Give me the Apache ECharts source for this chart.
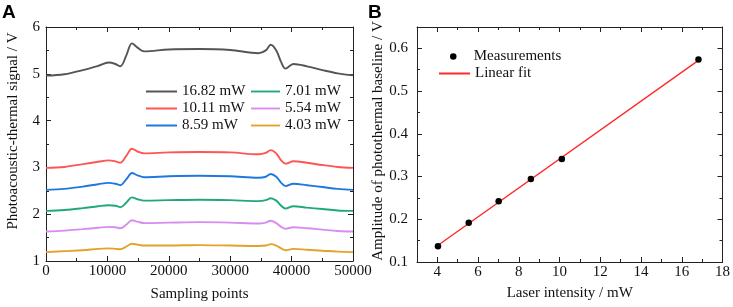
<!DOCTYPE html>
<html>
<head>
<meta charset="utf-8">
<script src="https://cdn.jsdelivr.net/npm/echarts@6/dist/echarts.min.js"></script>
<style>
html,body{margin:0;padding:0;background:#fff;}
#c{width:733px;height:307px;}
</style>
</head>
<body>
<div id="c"></div>
<script>
// ---------- Panel A data ----------
const samplePoints = [0, 3000, 6000, 8500, 10200, 11300, 12100, 13100, 14000, 14900, 16000, 20000, 25000, 30000, 34600, 35800, 36600, 37500, 38300, 39000, 40300, 42500, 45000, 47500, 50000];
const seriesNamesA = ['16.82 mW', '10.11 mW', '8.59 mW', '7.01 mW', '5.54 mW', '4.03 mW'];
const sig1682 = [4.96, 4.99, 5.08, 5.17, 5.24, 5.21, 5.16, 5.40, 5.65, 5.56, 5.48, 5.52, 5.53, 5.51, 5.44, 5.50, 5.62, 5.50, 5.25, 5.11, 5.21, 5.16, 5.08, 5.01, 4.97];
const sig1011 = [2.99, 3.01, 3.07, 3.12, 3.15, 3.13, 3.10, 3.25, 3.40, 3.34, 3.30, 3.32, 3.33, 3.32, 3.28, 3.31, 3.37, 3.30, 3.15, 3.08, 3.13, 3.10, 3.05, 3.01, 2.99];
const sig859  = [2.52, 2.54, 2.59, 2.64, 2.67, 2.65, 2.62, 2.75, 2.88, 2.83, 2.79, 2.81, 2.82, 2.81, 2.78, 2.80, 2.86, 2.80, 2.67, 2.60, 2.65, 2.62, 2.58, 2.54, 2.52];
const sig701  = [2.07, 2.09, 2.13, 2.17, 2.19, 2.18, 2.15, 2.25, 2.36, 2.32, 2.29, 2.30, 2.31, 2.30, 2.28, 2.30, 2.34, 2.29, 2.18, 2.12, 2.17, 2.14, 2.11, 2.08, 2.07];
const sig554  = [1.63, 1.65, 1.68, 1.71, 1.73, 1.72, 1.70, 1.78, 1.87, 1.84, 1.81, 1.82, 1.83, 1.82, 1.80, 1.82, 1.86, 1.81, 1.73, 1.69, 1.72, 1.70, 1.67, 1.64, 1.63];
const sig403  = [1.19, 1.21, 1.23, 1.26, 1.27, 1.26, 1.25, 1.31, 1.37, 1.35, 1.33, 1.33, 1.34, 1.33, 1.32, 1.33, 1.36, 1.33, 1.27, 1.23, 1.26, 1.24, 1.22, 1.20, 1.19];
const colorsA = ['#555555', '#ff5555', '#1f78e0', '#1fa978', '#d88cef', '#e3a22a'];
const ticksAX = [0, 10000, 20000, 30000, 40000, 50000];
const minorAX = [5000, 15000, 25000, 35000, 45000];
const ticksAY = [1, 2, 3, 4, 5, 6];
const minorAY = [1.5, 2.5, 3.5, 4.5, 5.5];

// ---------- Panel B data ----------
const laserIntensity = [4.03, 5.54, 7.01, 8.59, 10.11, 16.82];
const baselineAmp = [0.137, 0.192, 0.242, 0.294, 0.341, 0.574];
const fitX = [4.0, 16.82];
const fitY = [0.138, 0.572];
const ticksBX = [4, 6, 8, 10, 12, 14, 16, 18];
const minorBX = [5, 7, 9, 11, 13, 15, 17];
const ticksBY = [0.1, 0.2, 0.3, 0.4, 0.5, 0.6];
const minorBY = [0.15, 0.25, 0.35, 0.45, 0.55, 0.65];

const FONT = 'Liberation Serif';
const FS = 15;
const AX = '#222';
const LINE_ICON = 'path://M0,0 H31 V2 H0 Z';

function axes(dim, gridIndex, min, max, majors, minors, mainExtra) {
  const isX = dim === 'x';
  const pos = isX ? ['bottom', 'top'] : ['left', 'right'];
  const base = { type: 'value', gridIndex, min, max, splitLine: { show: false } };
  const out = [];
  out.push(Object.assign({}, base, {
    position: pos[0],
    axisLine: { show: true, onZero: false, lineStyle: { color: AX, width: 1 } },
    axisTick: { show: true, inside: true, length: 5, customValues: majors, lineStyle: { color: AX } },
    axisLabel: Object.assign({ show: true, customValues: majors, fontFamily: FONT, fontSize: FS, color: '#111', formatter: v => String(v) }, mainExtra.label || {}),
    nameLocation: 'middle', nameTextStyle: Object.assign({ fontFamily: FONT, fontSize: FS, color: '#111' }, mainExtra.nameStyle || {})
  }, mainExtra.axis || {}));
  out.push(Object.assign({}, base, {
    position: pos[0],
    axisLine: { show: false, onZero: false },
    axisTick: { show: true, inside: true, length: 3, customValues: minors, lineStyle: { color: AX } },
    axisLabel: { show: false }
  }));
  out.push(Object.assign({}, base, {
    position: pos[1],
    axisLine: { show: true, onZero: false, lineStyle: { color: AX, width: 1 } },
    axisTick: { show: true, inside: true, length: 5, customValues: majors, lineStyle: { color: AX } },
    axisLabel: { show: false }
  }));
  out.push(Object.assign({}, base, {
    position: pos[1],
    axisLine: { show: false, onZero: false },
    axisTick: { show: true, inside: true, length: 3, customValues: minors, lineStyle: { color: AX } },
    axisLabel: { show: false }
  }));
  return out;
}

const xAxes = [].concat(
  axes('x', 0, 0, 50000, ticksAX, minorAX, { label: { margin: 3 }, axis: { name: 'Sampling points', nameGap: 26 } }),
  axes('x', 1, 3, 18, ticksBX, minorBX, { label: { margin: 3 }, axis: { name: 'Laser intensity / mW', nameGap: 24 } })
);
const yAxes = [].concat(
  axes('y', 0, 1, 6, ticksAY, minorAY, { label: { margin: 6 }, axis: { name: 'Photoacoustic-thermal signal / V', nameGap: 25.5, nameRotate: 90 }, nameStyle: { padding: [0, 0, 0, 26] } }),
  axes('y', 1, 0.1, 0.65, ticksBY, minorBY, { label: { margin: 9 }, axis: { name: 'Amplitude of photothermal baseline / V', nameGap: 26.5, nameRotate: 90 }, nameStyle: { padding: [0, 0, 0, 7] } })
);

const sigs = [sig1682, sig1011, sig859, sig701, sig554, sig403];
const seriesA = sigs.map((ys, i) => ({
  name: seriesNamesA[i], type: 'line', xAxisIndex: 0, yAxisIndex: 0,
  data: samplePoints.map((x, j) => [x, ys[j]]),
  smooth: 0.35, symbol: 'none',
  lineStyle: { color: colorsA[i], width: 1.9 }, itemStyle: { color: colorsA[i] },
  z: 3
}));

const seriesB = [
  { name: 'Linear fit', type: 'line', xAxisIndex: 4, yAxisIndex: 4,
    data: fitX.map((x, j) => [x, fitY[j]]), symbol: 'none',
    lineStyle: { color: '#ff2a2a', width: 1.4 }, itemStyle: { color: '#ff2a2a' }, z: 3 },
  { name: 'Measurements', type: 'scatter', xAxisIndex: 4, yAxisIndex: 4,
    data: laserIntensity.map((x, j) => [x, baselineAmp[j]]), symbol: 'circle', symbolSize: 6.5,
    itemStyle: { color: '#000', opacity: 1 }, z: 4 }
];

const legendText = { fontFamily: FONT, fontSize: FS, color: '#111' };
const chart = echarts.init(document.getElementById('c'), null, { renderer: 'canvas' });
chart.setOption({
  animation: false,
  backgroundColor: '#fff',
  grid: [
    { left: 46, top: 27, width: 307, height: 235 },
    { left: 417, top: 27, width: 306, height: 235 }
  ],
  xAxis: xAxes,
  yAxis: yAxes,
  legend: [
    { data: ['16.82 mW', '10.11 mW', '8.59 mW'], orient: 'vertical', left: 146, top: 84, padding: 0, icon: LINE_ICON, itemWidth: 31, itemHeight: 15, itemGap: 2, textStyle: legendText, selectedMode: false },
    { data: ['7.01 mW', '5.54 mW', '4.03 mW'], orient: 'vertical', left: 251, top: 84, padding: 0, icon: LINE_ICON, itemWidth: 29, itemHeight: 15, itemGap: 2, textStyle: legendText, selectedMode: false },
    { data: ['Measurements'], orient: 'vertical', left: 450, top: 49, padding: 0, itemWidth: 31, itemHeight: 6.5, textStyle: legendText, selectedMode: false },
    { data: ['Linear fit'], orient: 'vertical', left: 439, top: 66, padding: 0, icon: LINE_ICON, itemWidth: 31, itemHeight: 15, textStyle: legendText, selectedMode: false }
  ],
  title: [
    { text: 'A', left: 0, top: 1, padding: 2, textStyle: { fontFamily: 'Liberation Sans', fontWeight: 'bold', fontSize: 19, color: '#000' } },
    { text: 'B', left: 366, top: 1, padding: 2, textStyle: { fontFamily: 'Liberation Sans', fontWeight: 'bold', fontSize: 19, color: '#000' } }
  ],
  series: seriesA.concat(seriesB)
});
</script>
</body>
</html>
